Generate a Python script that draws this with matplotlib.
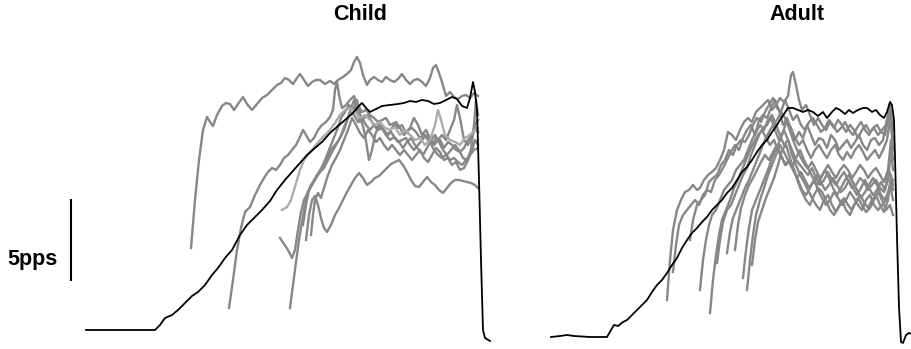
import matplotlib.pyplot as plt

plt.rcParams['font.family'] = ['Liberation Sans', 'DejaVu Sans']

# ---------------- Child ----------------
# tiempo (muestras) y frecuencia (u.a., 80 u.a. = 5 pps)
child_mean_t = [0, 69, 74, 79, 86, 92, 99, 106, 112, 119, 126, 132, 139, 146, 154, 161, 169, 176, 184, 191,
                199, 206, 214, 221, 229, 236, 244, 252, 259, 266, 272, 276, 280, 284, 290, 296, 304, 312, 318,
                324, 330, 336, 342, 348, 354, 360, 366, 371, 376, 381, 384, 387, 389, 391, 393, 395, 397, 399, 404]
child_mean_y = [0, 0, 5, 12, 15, 20, 27, 34, 38, 45, 55, 62, 72, 80, 95, 105, 113, 120, 129, 140,
                150, 158, 167, 175, 182, 188, 197, 204, 210, 216, 223, 227, 222, 218, 221, 224, 225, 226, 227,
                229, 228, 230, 229, 226, 227, 230, 233, 231, 224, 222, 232, 248, 238, 220, 150, 70, 0, -8, -11]

c1_t = [105, 109, 113, 117, 121, 124, 127, 131, 136, 140, 144, 148, 152, 157, 161, 166, 171, 176, 181, 186,
        191, 195, 199, 203, 207, 211, 214, 218, 222, 226, 230, 234, 239, 244, 248, 252, 257, 261, 265, 268,
        271, 274, 277, 281, 284, 288, 292, 296, 300, 304, 308, 312, 316, 320, 324, 328, 332, 336, 340, 344,
        347, 350, 353, 356, 360, 364, 368, 372, 376, 380, 384, 388, 392]
c1_y = [82, 130, 170, 200, 213, 208, 204, 215, 224, 227, 226, 220, 226, 233, 226, 220, 226, 232, 235, 240,
        245, 247, 252, 250, 246, 252, 256, 250, 244, 248, 250, 250, 246, 249, 246, 250, 253, 256, 260, 268,
        273, 267, 255, 245, 250, 253, 250, 248, 253, 250, 248, 251, 256, 250, 246, 250, 251, 248, 244, 252,
        262, 265, 257, 248, 234, 238, 233, 231, 234, 235, 232, 237, 234]

c2_t = [143, 147, 151, 155, 159, 164, 169, 174, 178, 182, 186, 190, 194, 198, 202, 206, 210, 214, 217, 220,
        224, 228, 232, 236, 240, 244, 247, 249, 251, 253, 256, 260, 264, 268, 272, 276, 280, 284, 288, 292,
        296, 300, 304, 308, 312, 316, 320, 324, 328, 332, 336, 340, 344, 348, 352, 356, 360, 364, 368, 371,
        374, 378, 382, 386, 389, 392]
c2_y = [22, 50, 80, 102, 118, 123, 135, 145, 152, 158, 162, 160, 165, 172, 175, 180, 185, 193, 200, 195,
        188, 192, 200, 205, 208, 213, 220, 240, 248, 235, 222, 225, 230, 234, 225, 218, 220, 215, 212, 208,
        210, 212, 205, 207, 202, 205, 197, 202, 212, 205, 195, 200, 192, 185, 190, 195, 190, 200, 210, 225,
        212, 190, 185, 192, 205, 210]

c3_t = [204, 207, 210, 213, 216, 219, 222, 225, 229, 233, 237, 241, 245, 249, 253, 257, 261, 264, 268, 272,
        276, 280, 284, 288, 292, 296, 300, 304, 308, 312, 316, 320, 324, 328, 332, 336, 340, 344, 348, 352,
        356, 360, 364, 368, 372, 376, 380, 384, 388, 392]
c3_y = [22, 45, 68, 90, 108, 125, 138, 145, 150, 158, 165, 172, 180, 185, 190, 200, 210, 218, 215, 208,
        212, 205, 200, 205, 200, 202, 195, 190, 193, 188, 190, 192, 185, 180, 185, 190, 195, 188, 180, 175,
        172, 175, 170, 172, 168, 165, 170, 175, 180, 182]

c4_t = [194, 198, 202, 206, 209, 212, 215, 218, 222, 226, 230, 234, 238, 242, 246, 250, 254, 258, 262, 265,
        268, 271, 274, 278, 282, 286, 290, 294, 298, 302, 306, 310, 314, 318, 322, 326, 330, 334, 338, 342,
        346, 350, 354, 358, 362, 366, 370, 374, 378, 382, 386, 390, 392]
c4_y = [92, 86, 80, 72, 80, 100, 118, 130, 138, 145, 152, 158, 162, 170, 178, 185, 192, 200, 212, 222,
        230, 220, 208, 212, 215, 208, 202, 205, 200, 195, 202, 208, 202, 195, 200, 202, 198, 192, 195, 190,
        185, 192, 190, 182, 188, 185, 180, 178, 182, 190, 195, 202, 198]

c5_t = [196, 201, 205, 208, 211, 214, 218, 222, 226, 230, 234, 239, 244, 249, 254, 259, 264, 269, 274, 279,
        284, 289, 294, 299, 304, 309, 314, 319, 324, 329, 334, 339, 344, 349, 352, 355, 359, 364, 369, 374,
        379, 384, 389, 392]
c5_y = [120, 123, 130, 140, 150, 160, 170, 175, 180, 185, 190, 195, 200, 207, 215, 220, 222, 218, 212, 215,
        210, 205, 208, 202, 200, 203, 195, 200, 195, 190, 192, 185, 190, 205, 220, 210, 195, 190, 188, 185,
        192, 195, 200, 202]

c6_t = [225, 227, 229, 232, 235, 238, 242, 246, 250, 254, 258, 262, 266, 270, 274, 278, 282, 286, 290, 294,
        298, 302, 306, 310, 314, 318, 322, 326, 330, 334, 338, 342, 346, 350, 354, 358, 362, 366, 370, 374,
        378, 382, 386, 389, 392]
c6_y = [95, 115, 130, 137, 132, 142, 155, 165, 172, 180, 190, 200, 212, 205, 197, 192, 200, 195, 188, 192,
        185, 180, 185, 180, 175, 180, 175, 170, 175, 180, 172, 168, 175, 182, 178, 170, 172, 165, 168, 160,
        162, 170, 180, 190, 185]

c7_t = [220, 223, 226, 229, 232, 235, 238, 241, 245, 249, 253, 257, 261, 265, 269, 273, 277, 281, 285, 289,
        293, 297, 301, 305, 309, 313, 317, 321, 325, 329, 333, 337, 341, 345, 349, 353, 357, 361, 365, 369,
        373, 377, 381, 385, 389, 392]
c7_y = [90, 115, 130, 134, 125, 112, 102, 98, 105, 115, 122, 130, 138, 145, 152, 157, 152, 145, 148, 152,
        154, 158, 162, 166, 168, 170, 165, 158, 150, 144, 143, 148, 153, 148, 145, 140, 137, 142, 147, 150,
        150, 149, 148, 147, 145, 142]

c8_t = [217, 220, 223, 227, 231, 235, 239, 243, 247, 251, 255, 259, 263, 267, 271, 275, 279, 283, 286, 289,
        293, 297, 301, 305, 309, 313, 317, 321, 325, 329, 333, 337, 341, 345, 349, 353, 357, 361, 365, 369,
        373, 377, 381, 385, 388, 390, 392]
c8_y = [105, 125, 140, 148, 155, 160, 170, 180, 190, 200, 212, 218, 225, 220, 230, 212, 195, 170, 180, 195,
        205, 200, 195, 198, 192, 188, 182, 188, 192, 185, 180, 175, 182, 190, 195, 188, 180, 175, 180, 185,
        180, 172, 170, 180, 205, 230, 215]

# ---------------- Adult ----------------
adult_mean_t = [0, 9, 16, 23, 39, 56, 60, 63, 67, 72, 76, 81, 86, 91, 96, 101, 106, 111, 116, 121,
                126, 131, 136, 141, 146, 151, 156, 161, 166, 171, 176, 181, 186, 191, 196, 201, 206, 211, 216, 221,
                226, 229, 233, 237, 242, 247, 252, 257, 262, 267, 272, 276, 281, 285, 289, 294, 298, 302, 307, 312,
                316, 321, 325, 329, 333, 336, 339, 341, 343, 344, 346, 348, 350, 352, 355, 358, 361]
adult_mean_y = [0, 1, 2, 1, 0, 0, 7, 12, 11, 15, 17, 22, 27, 32, 37, 45, 52, 57, 64, 72,
                79, 89, 97, 104, 109, 115, 120, 127, 132, 137, 144, 149, 157, 165, 170, 177, 185, 192, 197, 205,
                212, 217, 223, 229, 229, 227, 225, 227, 225, 221, 225, 219, 225, 229, 227, 223, 227, 224, 227, 229,
                229, 225, 227, 222, 219, 225, 235, 232, 217, 180, 100, 30, -5, -6, 2, 4, 3]

a1_t = [116, 119, 122, 126, 130, 134, 138, 142, 146, 149, 153, 157, 161, 165, 169, 173, 177, 181, 185, 189,
        193, 197, 201, 205, 209, 213, 217, 221, 225, 229, 233, 237, 240, 242, 245, 248, 251, 255, 259, 263,
        267, 271, 275, 279, 283, 287, 291, 295, 299, 303, 307, 311, 315, 319, 323, 327, 331, 335, 339, 342]
a1_y = [37, 77, 107, 127, 137, 145, 147, 152, 147, 149, 157, 162, 165, 169, 177, 187, 205, 202, 197, 207,
        215, 219, 215, 225, 229, 233, 237, 227, 232, 239, 235, 241, 262, 265, 252, 237, 227, 232, 222, 212,
        219, 212, 207, 215, 209, 217, 212, 205, 212, 207, 199, 207, 212, 205, 209, 202, 207, 212, 232, 207]

a2_t = [122, 125, 128, 132, 136, 140, 144, 148, 152, 156, 160, 164, 168, 172, 176, 180, 184, 188, 192, 196,
        200, 204, 208, 212, 216, 220, 224, 228, 232, 236, 240, 244, 248, 252, 256, 260, 264, 268, 272, 276,
        280, 284, 288, 292, 296, 300, 304, 308, 312, 316, 320, 324, 328, 332, 336, 339, 342]
a2_y = [65, 92, 112, 122, 127, 132, 137, 132, 142, 147, 145, 157, 162, 169, 177, 185, 192, 187, 199, 207,
        212, 202, 217, 222, 219, 229, 237, 227, 212, 219, 207, 197, 205, 199, 212, 202, 192, 199, 197, 189,
        202, 197, 187, 192, 197, 189, 195, 202, 192, 187, 197, 199, 192, 197, 217, 227, 187]

a3_t = [149, 152, 155, 158, 161, 165, 169, 173, 177, 181, 185, 189, 193, 197, 201, 205, 209, 213, 217, 221,
        225, 229, 233, 237, 241, 245, 249, 253, 257, 261, 265, 269, 273, 277, 281, 285, 289, 293, 297, 301,
        305, 309, 313, 317, 321, 325, 329, 333, 337, 340, 342]
a3_y = [47, 77, 97, 112, 122, 127, 137, 147, 152, 157, 167, 172, 177, 187, 197, 205, 212, 207, 217, 222,
        212, 202, 192, 197, 187, 177, 172, 167, 162, 169, 159, 152, 157, 165, 157, 152, 159, 165, 157, 149,
        152, 159, 155, 147, 152, 157, 149, 145, 157, 187, 167]

a4_t = [159, 162, 165, 168, 171, 175, 179, 183, 187, 191, 195, 199, 203, 207, 211, 215, 219, 223, 227, 231,
        235, 239, 243, 247, 251, 255, 259, 263, 267, 271, 275, 279, 283, 287, 291, 295, 299, 303, 307, 311,
        315, 319, 323, 327, 331, 335, 339, 342]
a4_y = [24, 57, 82, 102, 117, 127, 137, 149, 157, 167, 177, 187, 195, 202, 207, 199, 192, 197, 187, 179,
        172, 177, 167, 157, 147, 142, 149, 157, 147, 139, 132, 137, 145, 139, 132, 137, 145, 139, 132, 127,
        137, 142, 132, 127, 132, 137, 152, 137]

a5_t = [166, 169, 172, 176, 180, 184, 188, 192, 196, 200, 204, 208, 212, 216, 220, 224, 228, 232, 236, 240,
        244, 248, 252, 256, 260, 264, 268, 272, 276, 280, 284, 288, 292, 296, 300, 304, 308, 312, 316, 320,
        324, 328, 332, 336, 339, 342]
a5_y = [74, 97, 115, 127, 132, 142, 152, 162, 169, 182, 192, 202, 209, 212, 219, 207, 197, 205, 217, 209,
        199, 192, 197, 187, 179, 187, 192, 185, 179, 187, 192, 182, 177, 185, 179, 187, 192, 185, 177, 182,
        187, 179, 187, 197, 217, 197]

a6_t = [176, 179, 182, 186, 190, 194, 198, 202, 206, 210, 214, 218, 222, 226, 230, 234, 238, 242, 246, 250,
        254, 258, 262, 266, 270, 274, 278, 282, 286, 290, 294, 298, 302, 306, 310, 314, 318, 322, 326, 330,
        334, 338, 342]
a6_y = [84, 105, 119, 129, 139, 149, 157, 167, 177, 187, 197, 205, 212, 217, 225, 219, 209, 197, 187, 179,
        172, 167, 159, 152, 159, 167, 159, 149, 142, 149, 157, 162, 155, 147, 139, 145, 152, 159, 152, 142,
        137, 147, 157]

a7_t = [192, 195, 198, 201, 205, 209, 213, 217, 221, 225, 229, 233, 237, 241, 245, 249, 253, 257, 261, 265,
        269, 273, 277, 281, 285, 289, 293, 297, 301, 305, 309, 313, 317, 321, 325, 329, 333, 337, 340, 342]
a7_y = [59, 87, 109, 127, 137, 147, 157, 167, 179, 187, 197, 207, 197, 182, 172, 162, 155, 147, 139, 132,
        127, 137, 142, 132, 125, 132, 139, 132, 127, 135, 142, 135, 129, 137, 142, 132, 125, 137, 162, 147]

a8_t = [196, 199, 202, 205, 209, 213, 217, 221, 225, 229, 233, 237, 241, 245, 249, 253, 257, 261, 265, 269,
        273, 277, 281, 285, 289, 293, 297, 301, 305, 309, 313, 317, 321, 325, 329, 333, 337, 340, 342]
a8_y = [47, 77, 102, 122, 137, 149, 162, 172, 182, 192, 185, 177, 169, 179, 187, 177, 169, 175, 167, 159,
        165, 172, 165, 159, 167, 172, 167, 159, 165, 172, 167, 159, 165, 169, 162, 155, 167, 197, 177]

a9_t = [201, 204, 207, 211, 215, 219, 223, 227, 231, 235, 239, 243, 247, 251, 255, 259, 263, 267, 271, 275,
        279, 283, 287, 291, 295, 299, 303, 307, 311, 315, 319, 323, 327, 331, 335, 339, 342]
a9_y = [72, 97, 115, 127, 139, 149, 159, 172, 187, 192, 179, 167, 155, 145, 137, 132, 142, 149, 145, 137,
        127, 122, 129, 137, 127, 122, 132, 139, 132, 125, 129, 137, 145, 137, 127, 132, 122]

a10_t = [139, 142, 146, 150, 154, 158, 162, 166, 170, 174, 178, 182, 186, 190, 194, 198, 202, 206, 210, 214,
         218, 222, 226, 230, 234, 238, 242, 246, 250, 254, 258, 262, 266, 270, 274, 278, 282, 286, 290, 294,
         298, 302, 306, 310, 314, 318, 322, 326, 330, 334, 338, 342]
a10_y = [97, 117, 132, 137, 142, 155, 159, 162, 172, 177, 187, 182, 192, 197, 195, 202, 212, 219, 215, 225,
         232, 239, 229, 225, 237, 227, 217, 222, 212, 207, 215, 219, 212, 205, 209, 217, 212, 205, 209, 215,
         207, 202, 209, 215, 207, 202, 209, 212, 205, 202, 222, 212]

a11_t = [184, 187, 190, 194, 198, 202, 206, 210, 214, 218, 222, 226, 230, 234, 238, 242, 246, 250, 254, 258,
         262, 266, 270, 274, 278, 282, 286, 290, 294, 298, 302, 306, 310, 314, 318, 322, 326, 330, 334, 338, 342]
a11_y = [87, 112, 129, 142, 152, 159, 167, 175, 182, 177, 185, 192, 182, 172, 177, 167, 159, 165, 157, 149,
         155, 162, 155, 147, 152, 159, 152, 145, 149, 157, 149, 142, 149, 157, 149, 142, 147, 155, 147, 167, 152]

child_traces = [(c1_t, c1_y), (c2_t, c2_y), (c3_t, c3_y), (c4_t, c4_y),
                (c6_t, c6_y), (c7_t, c7_y), (c8_t, c8_y)]
child_light = [(c5_t, c5_y)]
adult_traces = [(a1_t, a1_y), (a2_t, a2_y), (a10_t, a10_y), (a3_t, a3_y), (a4_t, a4_y),
                (a5_t, a5_y), (a6_t, a6_y), (a7_t, a7_y), (a8_t, a8_y), (a9_t, a9_y),
                (a11_t, a11_y)]

fig = plt.figure(figsize=(9.12, 3.49), dpi=100)
fig.patch.set_facecolor('white')

ax1 = fig.add_axes([0.0, 0.01146, 495 / 912, 0.874])
ax1.set_xlim(-86, 409)
ax1.set_ylim(-15, 290)
ax1.axis('off')

ax2 = fig.add_axes([545 / 912, 0.01146, 367 / 912, 0.874])
ax2.set_xlim(-6, 361)
ax2.set_ylim(-8, 297)
ax2.axis('off')

gris = '#878787'
for t, y in child_traces:
    ax1.plot(t, y, color=gris, lw=1.7, solid_joinstyle='round')
for t, y in child_light:
    ax1.plot(t, y, color='#ababab', lw=1.7, solid_joinstyle='round')
ax1.plot(child_mean_t, child_mean_y, color='black', lw=1.3)

for t, y in adult_traces:
    ax2.plot(t, y, color=gris, lw=1.7, solid_joinstyle='round')
ax2.plot(adult_mean_t, adult_mean_y, color='black', lw=1.3)

# barra de escala: 80 u.a. = 5 pps
ax1.plot([-15, -15], [50, 130], color='black', lw=1.5)
ax1.text(-28, 70, '5pps', ha='right', va='center', fontsize=15.5, fontweight='bold')

fig.text(360 / 912, 1 - 15 / 349, 'Child', ha='center', va='center', fontsize=15.5, fontweight='bold')
fig.text(797 / 912, 1 - 15 / 349, 'Adult', ha='center', va='center', fontsize=15.5, fontweight='bold')

plt.savefig('out.png', dpi=100, facecolor='white')
